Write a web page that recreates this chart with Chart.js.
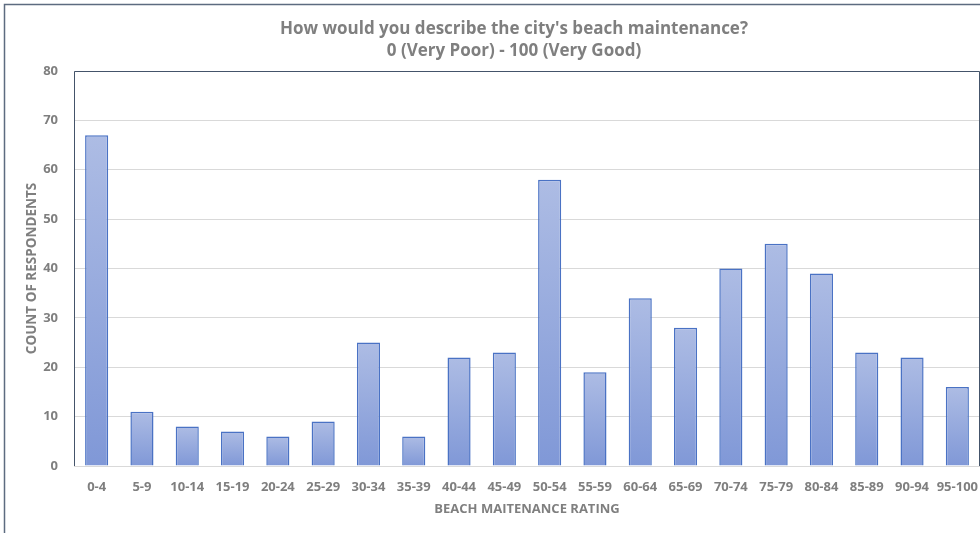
<!DOCTYPE html>
<html>
<head>
<meta charset="utf-8">
<script src="https://cdn.jsdelivr.net/npm/chart.js@4"></script>
<style>
  html, body { margin: 0; padding: 0; background: #fff; }
  #wrap { width: 980px; height: 533px; position: relative; }
</style>
</head>
<body>
<div id="wrap"><canvas id="myChart"></canvas></div>
<script>
const categories = ['0-4', '5-9', '10-14', '15-19', '20-24', '25-29', '30-34', '35-39', '40-44', '45-49',
    '50-54', '55-59', '60-64', '65-69', '70-74', '75-79', '80-84', '85-89', '90-94', '95-100'];
const respondents = [67, 11, 8, 7, 6, 9, 25, 6, 22, 23, 58, 19, 34, 28, 40, 45, 39, 23, 22, 16];
const titleLines = ["How would you describe the city's beach maintenance?", '0 (Very Poor) - 100 (Very Good)'];

const grey = '#7f7f7f';
const fontFamily = '"Open Sans", Lato, sans-serif';

// chart title, sits a bit right of the canvas centre like the original
const titlePlugin = {
    id: 'topTitle',
    afterDraw(chart) {
        const c = chart.ctx;
        c.save();
        c.fillStyle = grey;
        c.font = 'bold 17px ' + fontFamily;
        c.textAlign = 'center';
        c.textBaseline = 'alphabetic';
        c.fillText(titleLines[0], 514, 34);
        c.fillText(titleLines[1], 514, 56);
        c.restore();
    }
};

// frame round the picture and the plot box
const framePlugin = {
    id: 'frame',
    afterDraw(chart) {
        const c = chart.ctx;
        const a = chart.chartArea;
        c.save();
        c.strokeStyle = '#5d6b80';
        c.lineWidth = 1.5;
        c.beginPath();
        c.moveTo(4.5, 533);
        c.lineTo(4.5, 4.5);
        c.lineTo(980, 4.5);
        c.stroke();
        c.strokeStyle = '#44546a';
        c.lineWidth = 1;
        c.beginPath();
        c.moveTo(Math.round(a.left) + 0.5, a.bottom);
        c.lineTo(Math.round(a.left) + 0.5, Math.round(a.top) + 0.5);
        c.lineTo(Math.round(a.right) - 0.5, Math.round(a.top) + 0.5);
        c.lineTo(Math.round(a.right) - 0.5, a.bottom);
        c.stroke();
        c.restore();
    }
};

// each bar gets its own light-to-dark gradient
function barGradient(context) {
    const chart = context.chart;
    const yScale = chart.scales.y;
    if (!chart.chartArea || !yScale || context.raw == null) return '#98a9dc';
    const top = yScale.getPixelForValue(context.raw);
    const bottom = yScale.getPixelForValue(0);
    const g = chart.ctx.createLinearGradient(0, top, 0, bottom);
    g.addColorStop(0, '#adbce4');
    g.addColorStop(1, '#8098d7');
    return g;
}

const ctx = document.getElementById('myChart').getContext('2d');

new Chart(ctx, {
    type: 'bar',
    data: {
        labels: categories,
        datasets: [{
            data: respondents,
            backgroundColor: barGradient,
            borderColor: '#4a72c4',
            borderWidth: 1.5,
            categoryPercentage: 1,
            barPercentage: 0.51
        }]
    },
    options: {
        responsive: true,
        maintainAspectRatio: false,
        animation: false,
        layout: { padding: { left: 0, right: 0, top: 71, bottom: 0 } },
        scales: {
            y: {
                min: 0,
                max: 80,
                ticks: { stepSize: 10, color: grey, font: { family: fontFamily, size: 13, weight: 'bold' }, padding: 16 },
                grid: { color: '#d9d9d9', drawTicks: false },
                border: { display: false },
                title: {
                    display: true,
                    text: 'COUNT OF RESPONDENTS',
                    color: grey,
                    font: { family: fontFamily, size: 13.5, weight: 'bold' },
                    padding: { top: 24, bottom: 0 }
                },
                afterFit(scale) { scale.width = 74; }
            },
            x: {
                ticks: { color: grey, font: { family: fontFamily, size: 13, weight: 'bold' }, maxRotation: 0, padding: 13 },
                grid: { display: false, drawTicks: false },
                border: { color: '#d9d9d9' },
                title: {
                    display: true,
                    text: 'BEACH MAITENANCE RATING',
                    color: grey,
                    font: { family: fontFamily, size: 13, weight: 'bold' },
                    padding: { top: 6, bottom: 16 }
                },
                afterFit(scale) {
                    scale.height = 67;
                    scale.paddingLeft = 0;
                    scale.paddingRight = 0;
                }
            }
        },
        plugins: {
            legend: { display: false },
            tooltip: { enabled: false },
            title: { display: false }
        }
    },
    plugins: [framePlugin, titlePlugin]
});
</script>
</body>
</html>
